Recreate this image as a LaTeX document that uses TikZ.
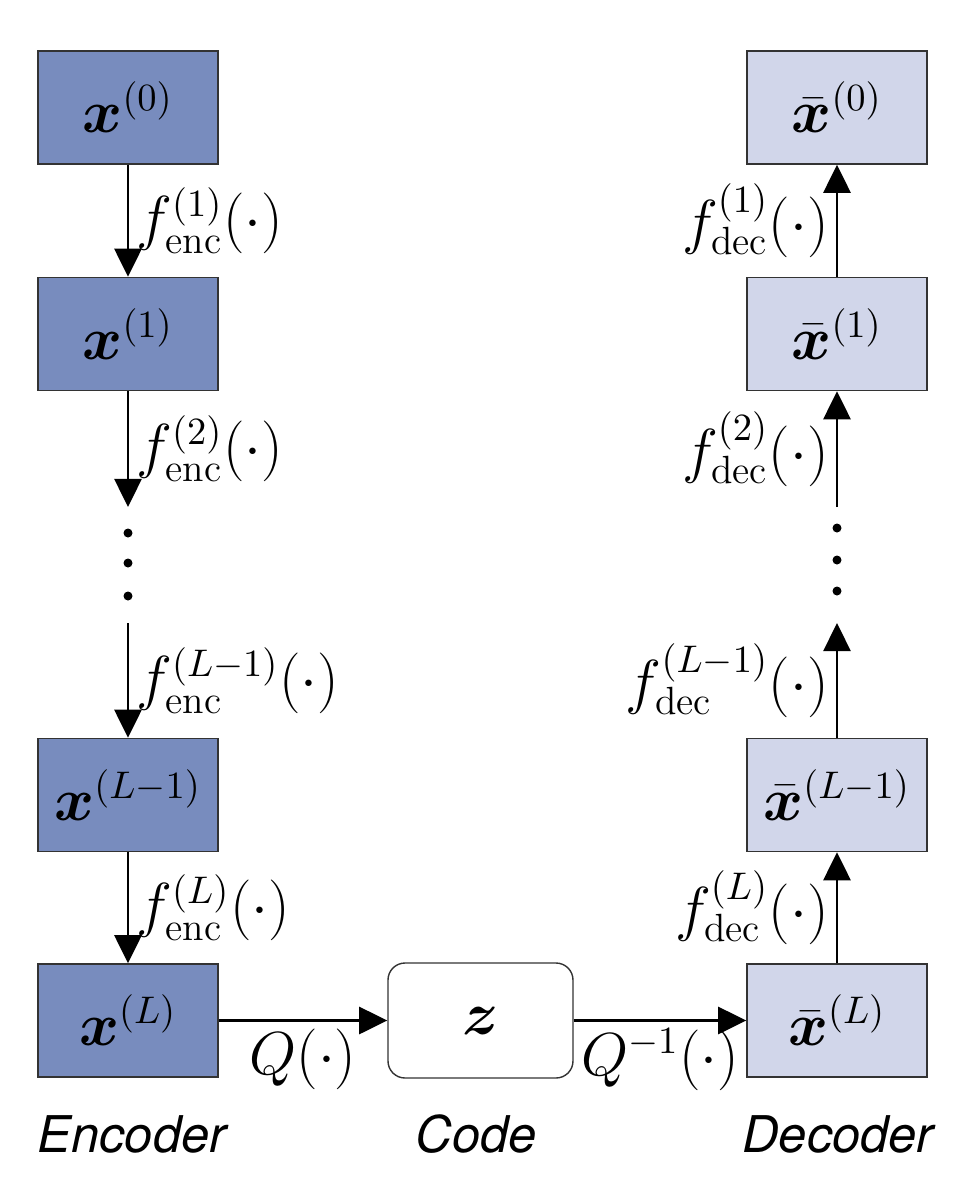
\documentclass[tikz,border=0pt]{standalone}
\usepackage{bm}
\usepackage{fontspec}
\newfontfamily\capfont{TeX Gyre Heros}
\usetikzlibrary{arrows.meta,positioning}
\definecolor{encblue}{RGB}{120,140,190}
\definecolor{decblue}{RGB}{209,214,234}

\begin{document}
\begin{tikzpicture}[
  font=\fontsize{16}{19}\selectfont,
  encbox/.style={draw=black!80, fill=encblue, minimum width=1.8cm, minimum height=1.13cm, inner sep=0pt},
  decbox/.style={draw=black!80, fill=decblue, minimum width=1.8cm, minimum height=1.13cm, inner sep=0pt},
  codebox/.style={draw=black!80, fill=white, rounded corners=0.17cm, minimum width=1.85cm, minimum height=1.15cm},
  arrow/.style={-{Triangle[length=8pt,width=7.7pt]}, line width=0.75pt},
  lab/.style={inner sep=2pt},
  partlabel/.style={font=\capfont\itshape\Large}
]
\useasboundingbox (0,0) rectangle (9.7,-12);

\node[encbox] (e0) at (1.28,-1.075) {$\bm{x}^{(0)}$};
\node[encbox] (e1) at (1.28,-3.34) {$\bm{x}^{(1)}$};
\node[encbox] (eL1) at (1.28,-7.95) {$\bm{x}^{(L-1)}$};
\node[encbox] (eL) at (1.28,-10.205) {$\bm{x}^{(L)}$};
\node[codebox] (z) at (4.805,-10.205) {$\bm{z}$};
\node[decbox] (d0) at (8.37,-1.075) {$\bar{\bm{x}}^{(0)}$};
\node[decbox] (d1) at (8.37,-3.34) {$\bar{\bm{x}}^{(1)}$};
\node[decbox] (dL1) at (8.37,-7.95) {$\bar{\bm{x}}^{(L-1)}$};
\node[decbox] (dL) at (8.37,-10.205) {$\bar{\bm{x}}^{(L)}$};

\coordinate (ea) at (1.28,-5.07);
\coordinate (eb) at (1.28,-6.23);
\coordinate (da) at (8.37,-6.23);
\coordinate (db) at (8.37,-5.07);

\draw[arrow] (e0) -- node[right, lab] {$f^{(1)}_{\mathrm{enc}}(\cdot)$} (e1);
\draw[arrow] (e1) -- node[right, lab] {$f^{(2)}_{\mathrm{enc}}(\cdot)$} (ea);
\foreach \y in {5.33,5.63,5.96}
  \fill (1.28,-\y) circle (0.045);
\draw[arrow] (eb) -- node[right, lab] {$f^{(L-1)}_{\mathrm{enc}}(\cdot)$} (eL1);
\draw[arrow] (eL1) -- node[right, lab] {$f^{(L)}_{\mathrm{enc}}(\cdot)$} (eL);

\draw[arrow] (eL) -- node[below, lab] {$Q(\cdot)$} (z);
\draw[arrow] (z) -- node[below, lab] {$Q^{-1}(\cdot)$} (dL);

\draw[arrow] (dL) -- node[left, lab] {$f^{(L)}_{\mathrm{dec}}(\cdot)$} (dL1);
\draw[arrow] (dL1) -- node[left, lab] {$f^{(L-1)}_{\mathrm{dec}}(\cdot)$} (da);
\foreach \y in {5.28,5.60,5.91}
  \fill (8.37,-\y) circle (0.045);
\draw[arrow] (db) -- node[left, lab] {$f^{(2)}_{\mathrm{dec}}(\cdot)$} (d1);
\draw[arrow] (d1) -- node[left, lab] {$f^{(1)}_{\mathrm{dec}}(\cdot)$} (d0);

\node[partlabel] (enccap) at (1.32,-11.34) {Encoder};
\node[partlabel] (codecap) at (4.76,-11.34) {Code};
\node[partlabel] (deccap) at (8.38,-11.34) {Decoder};
\end{tikzpicture}
\end{document}
